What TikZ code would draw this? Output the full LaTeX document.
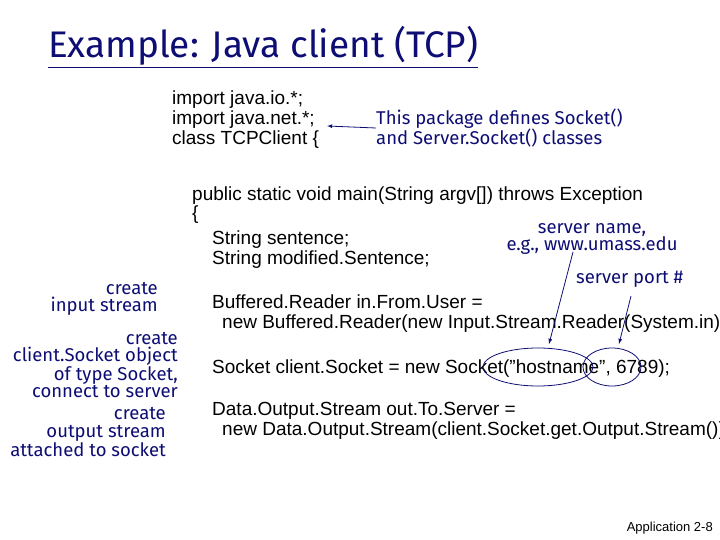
\documentclass[tikz,border=0pt]{standalone}
\usepackage{fontspec}
\setmainfont{Liberation Sans}
\newfontfamily\notefont{Fira Sans}
\usepackage{xcolor}
\definecolor{navyblue}{rgb}{0.05, 0.05, 0.45}
\usetikzlibrary{shapes.geometric}

\begin{document}
\begin{tikzpicture}[x=1pt, y=-1pt,
	code/.style = {anchor=west, inner sep=0pt, font=\fontsize{19}{20}\selectfont, align=left},
	note/.style = {inner sep=0pt, text=navyblue, font=\notefont\fontsize{18.5}{17.5}\selectfont},
	pointer/.style = {navyblue, thick, -latex}]
			\useasboundingbox (0,0) rectangle (720,540);
			\node[anchor=base west, inner sep=0pt, text=navyblue, font=\notefont\fontsize{37}{40}\selectfont] (title) at (48,58) {\underline{Example: Java client (TCP)}};
			
			\node[code] (imports) at (172,120) {import java.io.*;\\import java.net.*;\\class TCPClient \{};
			\node[note, anchor=west, align=left] (pkg) at (376,128) {This package defines Socket()\\and Server.Socket() classes};
			
			\node[code] (main) at (192,196) {public static void main(String argv[]) throws Exception};
			\node[code] (brace) at (192,215) {\{};
			\node[code] (decl) at (212,250) {String sentence;\\String modified.Sentence;};
			\node[code] (reader) at (212,314) {Buffered.Reader in.From.User =\\\hspace*{10pt}new Buffered.Reader(new Input.Stream.Reader(System.in));};
			\node[code] (sock) at (212,369) {Socket client.Socket = new Socket(\symbol{34}hostname\symbol{34}, 6789);};
			\node[code] (out) at (212,421) {Data.Output.Stream out.To.Server =\\\hspace*{10pt}new Data.Output.Stream(client.Socket.get.Output.Stream());};
			
			\node[note, align=center] (sname) at (592,239) {server name,\\e.g., www.umass.edu};
			\node[note, anchor=west] (sport) at (576,279) {server port \#};
			\node[note, anchor=east, align=right] (instream) at (158,299) {create\\input stream};
			\node[note, anchor=east, align=right] (cliobj) at (178,365) {create\\client.Socket object\\of type Socket,\\connect to server};
			\node[note, anchor=east, align=right] (outstream) at (166,432) {create\\output stream\\attached to socket};
			
			\node[ellipse, draw=navyblue, thick, minimum width=110pt, minimum height=38pt] (host) at (538,367) {};
			\node[ellipse, draw=navyblue, thick, minimum width=58pt, minimum height=38pt] (port) at (612,367) {};
			\coordinate (hosttip) at (549,344);
			\coordinate (porttip) at (619,344);
			
			\draw[pointer] (pkg.west) -- (327,126);
			\draw[pointer] (573,252) -- (hosttip);
			\draw[pointer] (631,296) -- (porttip);
			
			\node[anchor=east, inner sep=0pt, font=\fontsize{13}{15}\selectfont] (footer) at (713,528) {Application 2-8};
			\end{tikzpicture}
\end{document}
